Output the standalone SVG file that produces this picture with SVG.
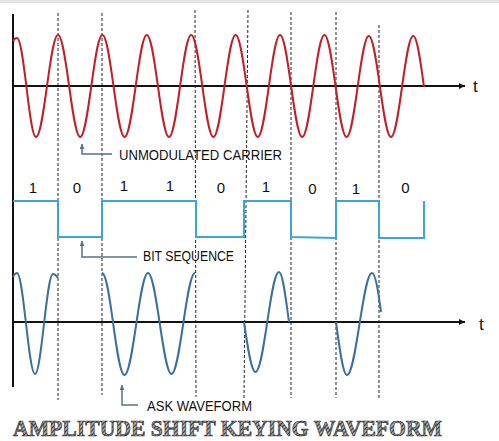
<svg xmlns="http://www.w3.org/2000/svg" width="499" height="441" viewBox="0 0 499 441">
<style>
.axis{stroke:#111;stroke-width:2;fill:none}
.dash{stroke:#222;stroke-width:1;stroke-dasharray:3 2;fill:none}
.carrier{stroke:#c0202a;stroke-width:2;fill:none}
.ask{stroke:#3b6f9e;stroke-width:2;fill:none}
.bits{stroke:#3aa6d6;stroke-width:2;fill:none}
.conn{stroke:#56728f;stroke-width:1.5;fill:none}
.lbl{font-family:"Liberation Sans",Arial,sans-serif;font-size:14px;fill:#111}
.bit{font-family:"Liberation Sans",Arial,sans-serif;font-size:15px;fill:#111;text-anchor:middle}
.t{font-family:"Liberation Sans",Arial,sans-serif;font-size:17px;fill:#111}
.title{font-family:"Liberation Serif","DejaVu Serif",serif;font-weight:bold;font-size:24px;fill:url(#hatch);stroke:#2e2e2e;stroke-width:0.7}
</style>
<defs>
<marker id="axArrow" markerUnits="userSpaceOnUse" markerWidth="7" markerHeight="7" refX="6" refY="3" orient="auto">
<path d="M0,0 L6,3 L0,6 z" fill="#111"/>
</marker>
<marker id="cArrow" markerUnits="userSpaceOnUse" markerWidth="6" markerHeight="6" refX="5" refY="2.5" orient="auto">
<path d="M0,0 L5,2.5 L0,5 z" fill="#56728f"/>
</marker>
<pattern id="hatch" patternUnits="userSpaceOnUse" width="3" height="3" patternTransform="rotate(45)">
<rect width="3" height="3" fill="#a8a8a8"/>
<line x1="0" y1="0" x2="0" y2="3" stroke="#2f2f2f" stroke-width="1.8"/>
</pattern>
</defs>
<rect x="0" y="0" width="499" height="3" fill="#e4e4e4"/>

<g id="dashed-lines">
<line class="dash" x1="58" y1="13" x2="58" y2="400"/>
<line class="dash" x1="102" y1="13" x2="102" y2="395"/>
<line class="dash" x1="195" y1="10" x2="196" y2="397"/>
<line class="dash" x1="248" y1="10" x2="244" y2="399"/>
<line class="dash" x1="291" y1="12" x2="291" y2="398"/>
<line class="dash" x1="336" y1="12" x2="336" y2="398"/>
<line class="dash" x1="379" y1="25" x2="379" y2="398"/>
</g>

<g id="axes">
<path class="axis" d="M13,14 V387"/>
<path class="axis" d="M13,86 H465" marker-end="url(#axArrow)"/>
<path class="axis" d="M13,322 H465" marker-end="url(#axArrow)"/>
<text class="t" x="473" y="92">t</text>
<text class="t" x="479" y="330">t</text>
</g>

<g id="carrier">
<path class="carrier" d="M13,41 C14.5,38.5 15.5,38 17,38 C24,38 29,137 36,137 C44,137 50,35 58,35 C66.1,35 72.1,137 80.2,137 C88.3,137 94.3,35 102.4,35 C110.5,35 116.5,137 124.6,137 C132.7,137 138.7,35 146.8,35 C154.9,35 160.9,137 169,137 C177.1,137 183.1,35 191.2,35 C199.3,35 205.3,137 213.4,137 C221.5,137 227.5,35 235.6,35 C243.7,35 249.7,137 257.8,137 C265.9,137 271.9,35 280,35 C288.1,35 294.1,137 302.2,137 C310.3,137 316.3,35 324.4,35 C332.5,35 338.5,137 346.6,137 C354.7,137 360.7,36 368.8,36 C376.9,36 382.9,137 391,137 C399.1,137 405.1,36 413.2,36 C417.1,36 420.4,60 424,87"/>
</g>

<g id="bit-sequence">
<path class="bits" d="M13,201 H58 V237 H102 V201 H196 V237 H244 V201 H291 V237 L336,238 V201 H379 V238 H424 V201"/>
<text class="bit" x="33" y="192.5">1</text>
<text class="bit" x="77" y="193">0</text>
<text class="bit" x="124" y="190.5">1</text>
<text class="bit" x="170" y="190.5">1</text>
<text class="bit" x="221" y="193">0</text>
<text class="bit" x="266" y="192">1</text>
<text class="bit" x="312.5" y="194">0</text>
<text class="bit" x="356" y="194">1</text>
<text class="bit" x="405.5" y="193">0</text>
</g>

<g id="ask-waveform">
<path class="ask" d="M13,277 C14.5,274 15.5,273 17,273 C23.5,273 28.5,374 35,374 C41.5,374 46.5,274 53,274 C55,274 56.5,276 58,278"/>
<path class="ask" d="M102,273 C110.5,273 116,375 124.5,375 C133,375 139.5,273 148,273 C156.5,273 163,374 171.5,374 C180,374 186.5,273 195,273"/>
<path class="ask" d="M244,322 C247.7,347.6 251.3,372 255.5,372 C264.1,372 270.4,272 279,272 C282.6,272 285.7,297.6 289,322"/>
<path class="ask" d="M336,322 C339.6,349.1 343,375 347,375 C356.1,375 362.9,273 372,273 C375.5,273 378.5,293 381,312"/>
</g>

<g id="connectors">
<path class="conn" d="M112,154 H82 V144" marker-end="url(#cArrow)"/>
<path class="conn" d="M137,257 H82 V241" marker-end="url(#cArrow)"/>
<path class="conn" d="M138,405 H122 V385" marker-end="url(#cArrow)"/>
</g>

<g id="label-carrier"><text class="lbl" x="119" y="159.5" textLength="163" lengthAdjust="spacingAndGlyphs">UNMODULATED CARRIER</text></g>
<g id="label-bits"><text class="lbl" x="143" y="260.5" textLength="91" lengthAdjust="spacingAndGlyphs">BIT SEQUENCE</text></g>
<g id="label-ask"><text class="lbl" x="147" y="411" textLength="105" lengthAdjust="spacingAndGlyphs">ASK WAVEFORM</text></g>

<g id="title"><text class="title" x="13" y="435.5" textLength="429" lengthAdjust="spacingAndGlyphs">AMPLITUDE SHIFT KEYING WAVEFORM</text></g>
</svg>
